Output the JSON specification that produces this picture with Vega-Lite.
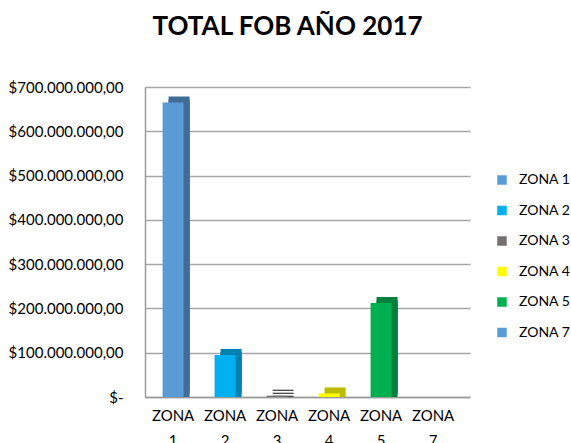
{
  "$schema": "https://vega.github.io/schema/vega-lite/v6.json",
  "width": 325,
  "height": 310,
  "padding": {"left": 8, "top": 14, "right": 0, "bottom": 0},
  "background": "white",
  "title": {
    "text": "TOTAL FOB AÑO 2017",
    "font": "Lato",
    "fontSize": 26,
    "fontWeight": "bold",
    "color": "#000000",
    "anchor": "middle",
    "offset": 40,
    "dx": -20
  },
  "config": {
    "view": {"stroke": null},
    "font": "Lato"
  },
  "data": {
    "values": [
      {"zona": "ZONA 1", "fob": 665000000},
      {"zona": "ZONA 2", "fob": 95000000},
      {"zona": "ZONA 3", "fob": 3000000},
      {"zona": "ZONA 4", "fob": 8000000},
      {"zona": "ZONA 5", "fob": 212000000},
      {"zona": "ZONA 7", "fob": 0}
    ]
  },
  "encoding": {
    "x": {
      "field": "zona",
      "type": "nominal",
      "sort": null,
      "scale": {"paddingInner": 0.6, "paddingOuter": 0.425, "align": 0.4},
      "axis": {
        "title": null,
        "labelAngle": 0,
        "labelFont": "Lato",
        "labelFontSize": 15,
        "labelColor": "#000000",
        "labelExpr": "split(datum.label, ' ')",
        "labelLineHeight": 25,
        "labelPadding": 11,
        "ticks": false,
        "domainColor": "#9a9a9a",
        "domainWidth": 1.5
      }
    },
    "y": {
      "field": "fob",
      "type": "quantitative",
      "scale": {"domain": [0, 700000000]},
      "axis": {
        "title": null,
        "values": [0, 100000000, 200000000, 300000000, 400000000, 500000000, 600000000, 700000000],
        "labelExpr": "datum.value == 0 ? '$-  ' : '$' + format(datum.value / 1000000, 'd') + '.000.000,00'",
        "labelFont": "Lato",
        "labelFontSize": 15,
        "labelColor": "#000000",
        "labelPadding": 22,
        "ticks": false,
        "grid": true,
        "gridColor": "#a6a6a6",
        "gridWidth": 1.5,
        "domainColor": "#9a9a9a",
        "domainWidth": 1.5
      }
    }
  },
  "layer": [
    {
      "mark": {"type": "bar", "size": 21, "xOffset": 6, "yOffset": -6},
      "encoding": {
        "color": {
          "field": "zona",
          "type": "nominal",
          "scale": {
            "domain": ["ZONA 1", "ZONA 2", "ZONA 3", "ZONA 4", "ZONA 5", "ZONA 7"],
            "range": ["#3f6d96", "#0082b0", "#4a4a4a", "#bdbd00", "#00803a", "#3f6d96"]
          },
          "legend": null
        }
      }
    },
    {
      "mark": {"type": "bar", "size": 21, "xOffset": 6, "yOffset": -3},
      "encoding": {
        "color": {
          "field": "zona",
          "type": "nominal",
          "scale": {
            "domain": ["ZONA 1", "ZONA 2", "ZONA 3", "ZONA 4", "ZONA 5", "ZONA 7"],
            "range": ["#3f6d96", "#0082b0", "#4a4a4a", "#bdbd00", "#00803a", "#3f6d96"]
          },
          "legend": null
        }
      }
    },
    {
      "mark": {"type": "bar", "size": 21, "xOffset": 6},
      "encoding": {
        "color": {
          "field": "zona",
          "type": "nominal",
          "scale": {
            "domain": ["ZONA 1", "ZONA 2", "ZONA 3", "ZONA 4", "ZONA 5", "ZONA 7"],
            "range": ["#3f6d96", "#0082b0", "#4a4a4a", "#bdbd00", "#00803a", "#3f6d96"]
          },
          "legend": null
        }
      }
    },
    {
      "mark": {"type": "bar", "size": 21},
      "encoding": {
        "color": {
          "field": "zona",
          "type": "nominal",
          "scale": {
            "domain": ["ZONA 1", "ZONA 2", "ZONA 3", "ZONA 4", "ZONA 5", "ZONA 7"],
            "range": ["#5b9bd5", "#00b0f0", "#767171", "#ffff00", "#00b050", "#5b9bd5"]
          },
          "legend": {
            "title": null,
            "orient": "none",
            "legendX": 350,
            "legendY": 86,
            "symbolType": "square",
            "symbolSize": 90,
            "symbolStrokeWidth": 0,
            "labelFont": "Lato",
            "labelFontSize": 14,
            "labelColor": "#000000",
            "labelOffset": 10,
            "rowPadding": 16.5
          }
        }
      }
    }
  ],
  "resolve": {"scale": {"color": "independent"}, "legend": {"color": "independent"}}
}
